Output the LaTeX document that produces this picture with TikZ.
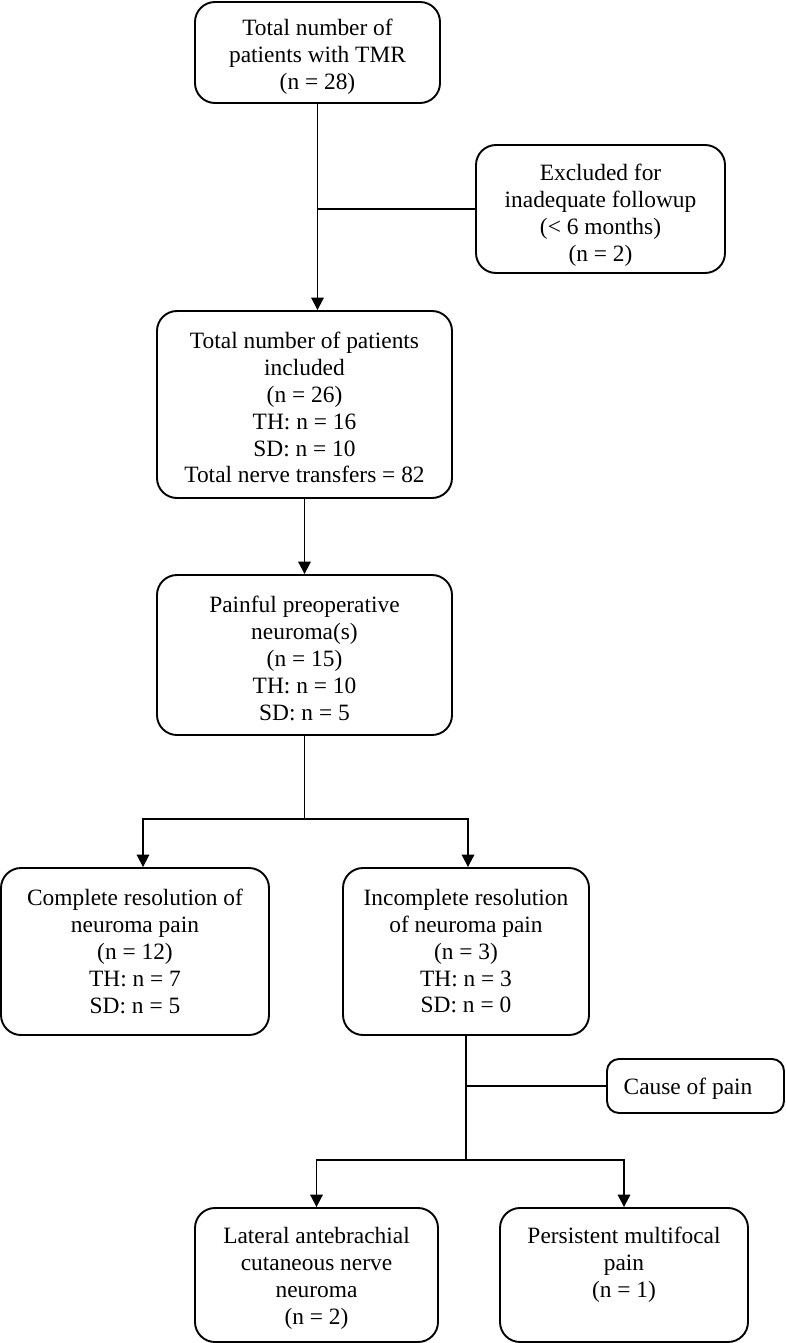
\documentclass[tikz,border=0pt]{standalone}
\usepackage{fontspec}
\setmainfont{Liberation Serif}
\usetikzlibrary{arrows.meta}
\begin{document}
\begin{tikzpicture}[x=1pt,y=-1pt,
  box/.style={draw=black,line width=1.9pt,rounded corners=20pt,inner sep=0pt},
  txt/.style={align=center,inner sep=0pt,anchor=north,font=\fontsize{23.4}{26.8}\selectfont},
  conn/.style={draw=black,line width=1.9pt},
  arr/.style={conn,-{Triangle[width=12.5pt,length=12.5pt]}}]
\useasboundingbox (0,0) rectangle (786,1343);
\fill[white] (0,0) rectangle (786,1343);
% boxes
\node[box,minimum width=245pt,minimum height=101pt] (A) at (317.5,52.5) {};
\node[box,minimum width=249pt,minimum height=128pt] (B) at (600.5,209) {};
\node[box,minimum width=295pt,minimum height=187pt] (C) at (304.5,404.5) {};
\node[box,minimum width=295pt,minimum height=160pt] (D) at (304.5,655) {};
\node[box,minimum width=268pt,minimum height=167pt] (E) at (135,951.5) {};
\node[box,minimum width=246pt,minimum height=167pt] (F) at (466,951.5) {};
\node[box,minimum width=177pt,minimum height=54pt,rounded corners=12pt] (G) at (695.5,1086) {};
\node[box,minimum width=243pt,minimum height=134pt] (H) at (316.5,1275) {};
\node[box,minimum width=248pt,minimum height=134pt] (I) at (624,1275) {};
% texts
\node[txt] (tA) at (317.5,19.2) {Total number of\\patients with TMR\\(n = 28)};
\node[txt] (tB) at (600.5,164.2) {Excluded for\\inadequate followup\\(< 6 months)\\(n = 2)};
\node[txt] (tC) at (304.5,332.2) {Total number of patients\\included\\(n = 26)\\TH: n = 16\\SD: n = 10\\Total nerve transfers = 82};
\node[txt] (tD) at (304.5,596.2) {Painful preoperative\\neuroma(s)\\(n = 15)\\TH: n = 10\\SD: n = 5};
\node[txt] (tE) at (135,889.2) {Complete resolution of\\neuroma pain\\(n = 12)\\TH: n = 7\\SD: n = 5};
\node[txt] (tF) at (466,889.2) {Incomplete resolution\\of neuroma pain\\(n = 3)\\TH: n = 3\\SD: n = 0};
\node[txt] (tG) at (688,1078.2) {Cause of pain};
\node[txt] (tH) at (316.5,1227.2) {Lateral antebrachial\\cutaneous nerve\\neuroma\\(n = 2)};
\node[txt] (tI) at (624,1227.2) {Persistent multifocal\\pain\\(n = 1)};
% connectors
\coordinate (ya) at (0,819);
\coordinate (yb) at (0,1160);
\draw[arr] (A.south) -- (A.south |- C.north);
\draw[conn] (A.south |- B.west) -- (B.west);
\draw[arr] (C.south) -- (D.north);
\draw[conn] (D.south) -- (D.south |- ya);
\draw[arr] (D.south |- ya) -| ([xshift=8pt]E.north);
\draw[arr] (D.south |- ya) -| ([xshift=2pt]F.north);
\draw[conn] (F.south) -- (F.south |- yb);
\draw[conn] (F.south |- G.west) -- (G.west);
\draw[arr] (F.south |- yb) -| (H.north);
\draw[arr] (F.south |- yb) -| (I.north);
\end{tikzpicture}
\end{document}
